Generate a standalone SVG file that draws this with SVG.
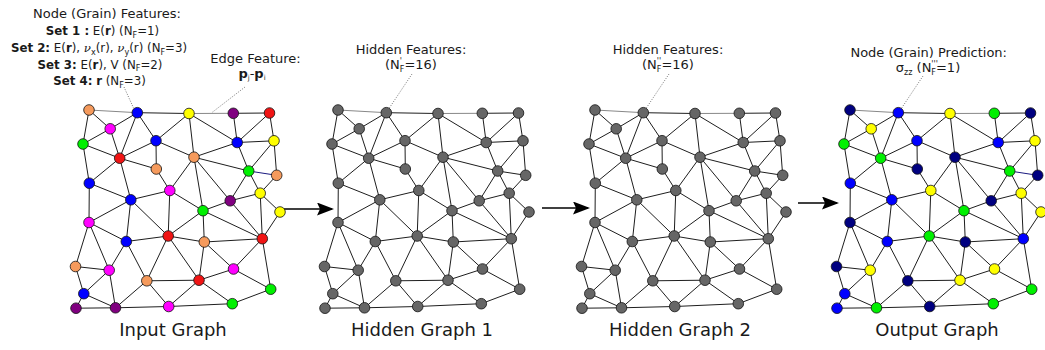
<svg xmlns="http://www.w3.org/2000/svg" xmlns:xlink="http://www.w3.org/1999/xlink" width="1045" height="350" viewBox="0 0 1045 350">
<style>
.e{fill:none;stroke:#1e1e1e;stroke-width:1}
.eg{fill:none;stroke:#888;stroke-width:1}
.en{fill:none;stroke:#1a1a80;stroke-width:1}
.lead{fill:none;stroke:#777;stroke-width:1;stroke-dasharray:1 1.5}
.arr{fill:none;stroke:#000;stroke-width:1.6}
.node{stroke:#111;stroke-width:0.8}
.or{fill:#f59a5c}.bl{fill:#0000ff}.ye{fill:#ffff00}.pu{fill:#800080}.rd{fill:#f01414}.mg{fill:#ff00ff}.gn{fill:#00f000}.nv{fill:#000080}.gy{fill:#666666}
.t{font-family:"DejaVu Sans",Verdana,sans-serif;fill:#1a1a1a;text-anchor:middle}
.t13{font-size:13px}.t11{font-size:11.8px}.t17{font-size:18px}
.b{font-weight:bold}
.nu{font-family:"DejaVu Serif",serif;font-style:italic}
</style>
<defs>
<marker id="ah" markerUnits="userSpaceOnUse" viewBox="0 0 17 13" markerWidth="17" markerHeight="13" refX="15" refY="6.5" orient="auto">
<path d="M0,0 L17,6.5 L0,13 L3,6.5 z" fill="#000"/>
</marker>
<path id="E" d="M89 110L110.2 128.8M89 110L83 144M137.3 112.7L189 113.5M137.3 112.7L110.2 128.8M137.3 112.7L156 140.7M137.3 112.7L119.7 158.2M189 113.5L156 140.7M189 113.5L237.2 142.5M189 113.5L194 157.2M233.3 113.3L269.5 113M233.3 113.3L237.2 142.5M269.5 113L237.2 142.5M269.5 113L274 140.8M110.2 128.8L83 144M110.2 128.8L119.7 158.2M83 144L119.7 158.2M83 144L89.3 183.2M156 140.7L119.7 158.2M156 140.7L194 157.2M156 140.7L156.3 169M237.2 142.5L274 140.8M237.2 142.5L194 157.2M237.2 142.5L248.7 171M274 140.8L248.7 171M274 140.8L276.7 175.3M119.7 158.2L156.3 169M119.7 158.2L89.3 183.2M119.7 158.2L130.8 199.8M194 157.2L248.7 171M194 157.2L169.8 190.5M194 157.2L230.2 200.8M194 157.2L203 210.7M156.3 169L169.8 190.5M248.7 171L260.2 193.2M248.7 171L230.2 200.8M276.7 175.3L260.2 193.2M89.3 183.2L130.8 199.8M89.3 183.2L89 222.5M169.8 190.5L130.8 199.8M169.8 190.5L203 210.7M169.8 190.5L168.2 236M130.8 199.8L89 222.5M130.8 199.8L126.3 241.5M130.8 199.8L168.2 236M260.2 193.2L230.2 200.8M260.2 193.2L280 212M260.2 193.2L262.3 238.7M230.2 200.8L203 210.7M230.2 200.8L262.3 238.7M280 212L262.3 238.7M203 210.7L168.2 236M203 210.7L204.3 242M203 210.7L262.3 238.7M89 222.5L126.3 241.5M89 222.5L75.5 266.5M89 222.5L109.2 270.2M126.3 241.5L168.2 236M126.3 241.5L109.2 270.2M126.3 241.5L146.8 280.8M168.2 236L204.3 242M168.2 236L146.8 280.8M168.2 236L199 280.2M204.3 242L262.3 238.7M204.3 242L199 280.2M204.3 242L233.5 269M262.3 238.7L233.5 269M262.3 238.7L270.7 289.2M75.5 266.5L109.2 270.2M75.5 266.5L83.8 293.7M109.2 270.2L83.8 293.7M109.2 270.2L115.5 307.8M146.8 280.8L199 280.2M146.8 280.8L115.5 307.8M146.8 280.8L168.7 306.5M199 280.2L233.5 269M199 280.2L168.7 306.5M199 280.2L232.3 303.7M233.5 269L270.7 289.2M83.8 293.7L76 308.2M83.8 293.7L115.5 307.8M270.7 289.2L232.3 303.7M76 308.2L115.5 307.8M115.5 307.8L168.7 306.5M168.7 306.5L232.3 303.7"/>
<path id="EG" d="M89 110L137.3 112.7M189 113.5L233.3 113.3"/>
<path id="EN" d="M248.7 171L276.7 175.3"/>
<circle id="p1" cx="89" cy="110" r="5.3"/>
<circle id="p2" cx="137.3" cy="112.7" r="5.3"/>
<circle id="p3" cx="189" cy="113.5" r="5.3"/>
<circle id="p4" cx="233.3" cy="113.3" r="5.3"/>
<circle id="p5" cx="269.5" cy="113" r="5.3"/>
<circle id="p6" cx="110.2" cy="128.8" r="5.3"/>
<circle id="p7" cx="83" cy="144" r="5.3"/>
<circle id="p8" cx="156" cy="140.7" r="5.3"/>
<circle id="p9" cx="237.2" cy="142.5" r="5.3"/>
<circle id="p10" cx="274" cy="140.8" r="5.3"/>
<circle id="p11" cx="119.7" cy="158.2" r="5.3"/>
<circle id="p12" cx="194" cy="157.2" r="5.3"/>
<circle id="p13" cx="156.3" cy="169" r="5.3"/>
<circle id="p14" cx="248.7" cy="171" r="5.3"/>
<circle id="p15" cx="276.7" cy="175.3" r="5.3"/>
<circle id="p16" cx="89.3" cy="183.2" r="5.3"/>
<circle id="p17" cx="169.8" cy="190.5" r="5.3"/>
<circle id="p18" cx="130.8" cy="199.8" r="5.3"/>
<circle id="p19" cx="260.2" cy="193.2" r="5.3"/>
<circle id="p20" cx="230.2" cy="200.8" r="5.3"/>
<circle id="p21" cx="280" cy="212" r="5.3"/>
<circle id="p22" cx="203" cy="210.7" r="5.3"/>
<circle id="p23" cx="89" cy="222.5" r="5.3"/>
<circle id="p24" cx="126.3" cy="241.5" r="5.3"/>
<circle id="p25" cx="168.2" cy="236" r="5.3"/>
<circle id="p26" cx="204.3" cy="242" r="5.3"/>
<circle id="p27" cx="262.3" cy="238.7" r="5.3"/>
<circle id="p28" cx="75.5" cy="266.5" r="5.3"/>
<circle id="p29" cx="109.2" cy="270.2" r="5.3"/>
<circle id="p30" cx="146.8" cy="280.8" r="5.3"/>
<circle id="p31" cx="199" cy="280.2" r="5.3"/>
<circle id="p32" cx="233.5" cy="269" r="5.3"/>
<circle id="p33" cx="83.8" cy="293.7" r="5.3"/>
<circle id="p34" cx="270.7" cy="289.2" r="5.3"/>
<circle id="p35" cx="76" cy="308.2" r="5.3"/>
<circle id="p36" cx="115.5" cy="307.8" r="5.3"/>
<circle id="p37" cx="168.7" cy="306.5" r="5.3"/>
<circle id="p38" cx="232.3" cy="303.7" r="5.3"/>
</defs>
<rect width="1045" height="350" fill="#fff"/>

<!-- Labels -->
<g id="labels">
<text class="t t13" x="107" y="18">Node (Grain) Features:</text>
<text class="t t11" x="102.5" y="35"><tspan class="b">Set 1 :</tspan> E(<tspan class="b">r</tspan>) (N<tspan font-size="8" dy="2.5">F</tspan><tspan dy="-2.5">=1)</tspan></text>
<text class="t t11" x="99" y="52"><tspan class="b">Set 2:</tspan> E(<tspan class="b">r</tspan>), <tspan class="nu">ν</tspan><tspan font-size="8" dy="2.5">x</tspan><tspan dy="-2.5">(r), </tspan><tspan class="nu">ν</tspan><tspan font-size="8" dy="2.5">y</tspan><tspan dy="-2.5">(r) (N</tspan><tspan font-size="8" dy="2.5">F</tspan><tspan dy="-2.5">=3)</tspan></text>
<text class="t t11" x="100" y="68.5"><tspan class="b">Set 3:</tspan> E(<tspan class="b">r</tspan>), V (N<tspan font-size="8" dy="2.5">F</tspan><tspan dy="-2.5">=2)</tspan></text>
<text class="t t11" x="99.5" y="85"><tspan class="b">Set 4:</tspan> <tspan class="b">r</tspan> (N<tspan font-size="8" dy="2.5">F</tspan><tspan dy="-2.5">=3)</tspan></text>
<text class="t t13" x="255.5" y="63">Edge Feature:</text>
<text class="t t13" x="252" y="78"><tspan class="b">p</tspan><tspan font-size="7" dy="2">j</tspan><tspan dy="-2">-</tspan><tspan class="b">p</tspan><tspan font-size="7" dy="2">i</tspan></text>
<text class="t t13" x="411" y="54.3">Hidden Features:</text>
<text class="t t13" x="411" y="69">(N<tspan font-size="8" dy="-5">'</tspan><tspan font-size="8" dx="-2.2" dy="8">F</tspan><tspan dy="-3">=16)</tspan></text>
<text class="t t13" x="668" y="54.3">Hidden Features:</text>
<text class="t t13" x="668" y="69">(N<tspan font-size="8" dy="-5">''</tspan><tspan font-size="8" dx="-4.4" dy="8">F</tspan><tspan dy="-3">=16)</tspan></text>
<text class="t t13" x="928.7" y="57.3">Node (Grain) Prediction:</text>
<text class="t t13" x="928" y="72.3">σ<tspan font-size="8" dy="2.5">zz</tspan><tspan dy="-2.5"> (N</tspan><tspan font-size="8" dy="-5">'''</tspan><tspan font-size="8" dx="-6.6" dy="8">F</tspan><tspan dy="-3">=1)</tspan></text>
<text class="t t17" x="173" y="336">Input Graph</text>
<text class="t t17" x="422" y="336">Hidden Graph 1</text>
<text class="t t17" x="680" y="336">Hidden Graph 2</text>
<text class="t t17" x="937" y="336">Output Graph</text>
</g>

<!-- Connectors -->
<g id="connectors">
<g id="input-edges"><use href="#E" class="e"/><use href="#EG" class="eg"/><use href="#EN" class="en"/></g>
<g id="hidden1-edges" transform="translate(249,0)"><use href="#E" class="e"/><use href="#EG" class="eg"/><use href="#EN" class="e"/></g>
<g id="hidden2-edges" transform="translate(506,0)"><use href="#E" class="e"/><use href="#EG" class="eg"/><use href="#EN" class="e"/></g>
<g id="output-edges" transform="translate(761,0)"><use href="#E" class="e"/><use href="#EG" class="eg"/><use href="#EN" class="en"/></g>
<g id="leaders">
<path class="lead" d="M124 87L134 109"/>
<path class="lead" d="M245 87L212 112.5"/>
<path class="lead" d="M412 74L388 110"/>
<path class="lead" d="M669 74L645 110"/>
<path class="lead" d="M923 76L901 109"/>
</g>
<g id="arrows">
<path class="arr" d="M284 209H332" marker-end="url(#ah)"/>
<path class="arr" d="M542 208H588" marker-end="url(#ah)"/>
<path class="arr" d="M798 203H837" marker-end="url(#ah)"/>
</g>
</g>

<!-- Input graph nodes -->
<g id="input-nodes">
<g id="in1" class="node or"><use href="#p1"/></g>
<g id="in2" class="node bl"><use href="#p2"/></g>
<g id="in3" class="node ye"><use href="#p3"/></g>
<g id="in4" class="node pu"><use href="#p4"/></g>
<g id="in5" class="node rd"><use href="#p5"/></g>
<g id="in6" class="node mg"><use href="#p6"/></g>
<g id="in7" class="node gn"><use href="#p7"/></g>
<g id="in8" class="node bl"><use href="#p8"/></g>
<g id="in9" class="node bl"><use href="#p9"/></g>
<g id="in10" class="node ye"><use href="#p10"/></g>
<g id="in11" class="node rd"><use href="#p11"/></g>
<g id="in12" class="node or"><use href="#p12"/></g>
<g id="in13" class="node or"><use href="#p13"/></g>
<g id="in14" class="node gn"><use href="#p14"/></g>
<g id="in15" class="node or"><use href="#p15"/></g>
<g id="in16" class="node bl"><use href="#p16"/></g>
<g id="in17" class="node mg"><use href="#p17"/></g>
<g id="in18" class="node bl"><use href="#p18"/></g>
<g id="in19" class="node ye"><use href="#p19"/></g>
<g id="in20" class="node pu"><use href="#p20"/></g>
<g id="in21" class="node ye"><use href="#p21"/></g>
<g id="in22" class="node gn"><use href="#p22"/></g>
<g id="in23" class="node mg"><use href="#p23"/></g>
<g id="in24" class="node bl"><use href="#p24"/></g>
<g id="in25" class="node rd"><use href="#p25"/></g>
<g id="in26" class="node or"><use href="#p26"/></g>
<g id="in27" class="node rd"><use href="#p27"/></g>
<g id="in28" class="node or"><use href="#p28"/></g>
<g id="in29" class="node mg"><use href="#p29"/></g>
<g id="in30" class="node or"><use href="#p30"/></g>
<g id="in31" class="node rd"><use href="#p31"/></g>
<g id="in32" class="node mg"><use href="#p32"/></g>
<g id="in33" class="node bl"><use href="#p33"/></g>
<g id="in34" class="node gn"><use href="#p34"/></g>
<g id="in35" class="node pu"><use href="#p35"/></g>
<g id="in36" class="node pu"><use href="#p36"/></g>
<g id="in37" class="node mg"><use href="#p37"/></g>
<g id="in38" class="node gn"><use href="#p38"/></g>
</g>

<!-- Hidden graph 1 nodes -->
<g id="hidden1-nodes" transform="translate(249,0)" class="node gy">
<g id="h1n1"><use href="#p1"/></g><g id="h1n2"><use href="#p2"/></g><g id="h1n3"><use href="#p3"/></g><g id="h1n4"><use href="#p4"/></g><g id="h1n5"><use href="#p5"/></g><g id="h1n6"><use href="#p6"/></g><g id="h1n7"><use href="#p7"/></g><g id="h1n8"><use href="#p8"/></g><g id="h1n9"><use href="#p9"/></g><g id="h1n10"><use href="#p10"/></g>
<g id="h1n11"><use href="#p11"/></g><g id="h1n12"><use href="#p12"/></g><g id="h1n13"><use href="#p13"/></g><g id="h1n14"><use href="#p14"/></g><g id="h1n15"><use href="#p15"/></g><g id="h1n16"><use href="#p16"/></g><g id="h1n17"><use href="#p17"/></g><g id="h1n18"><use href="#p18"/></g><g id="h1n19"><use href="#p19"/></g><g id="h1n20"><use href="#p20"/></g>
<g id="h1n21"><use href="#p21"/></g><g id="h1n22"><use href="#p22"/></g><g id="h1n23"><use href="#p23"/></g><g id="h1n24"><use href="#p24"/></g><g id="h1n25"><use href="#p25"/></g><g id="h1n26"><use href="#p26"/></g><g id="h1n27"><use href="#p27"/></g><g id="h1n28"><use href="#p28"/></g><g id="h1n29"><use href="#p29"/></g><g id="h1n30"><use href="#p30"/></g>
<g id="h1n31"><use href="#p31"/></g><g id="h1n32"><use href="#p32"/></g><g id="h1n33"><use href="#p33"/></g><g id="h1n34"><use href="#p34"/></g><g id="h1n35"><use href="#p35"/></g><g id="h1n36"><use href="#p36"/></g><g id="h1n37"><use href="#p37"/></g><g id="h1n38"><use href="#p38"/></g>
</g>

<!-- Hidden graph 2 nodes -->
<g id="hidden2-nodes" transform="translate(506,0)" class="node gy">
<g id="h2n1"><use href="#p1"/></g><g id="h2n2"><use href="#p2"/></g><g id="h2n3"><use href="#p3"/></g><g id="h2n4"><use href="#p4"/></g><g id="h2n5"><use href="#p5"/></g><g id="h2n6"><use href="#p6"/></g><g id="h2n7"><use href="#p7"/></g><g id="h2n8"><use href="#p8"/></g><g id="h2n9"><use href="#p9"/></g><g id="h2n10"><use href="#p10"/></g>
<g id="h2n11"><use href="#p11"/></g><g id="h2n12"><use href="#p12"/></g><g id="h2n13"><use href="#p13"/></g><g id="h2n14"><use href="#p14"/></g><g id="h2n15"><use href="#p15"/></g><g id="h2n16"><use href="#p16"/></g><g id="h2n17"><use href="#p17"/></g><g id="h2n18"><use href="#p18"/></g><g id="h2n19"><use href="#p19"/></g><g id="h2n20"><use href="#p20"/></g>
<g id="h2n21"><use href="#p21"/></g><g id="h2n22"><use href="#p22"/></g><g id="h2n23"><use href="#p23"/></g><g id="h2n24"><use href="#p24"/></g><g id="h2n25"><use href="#p25"/></g><g id="h2n26"><use href="#p26"/></g><g id="h2n27"><use href="#p27"/></g><g id="h2n28"><use href="#p28"/></g><g id="h2n29"><use href="#p29"/></g><g id="h2n30"><use href="#p30"/></g>
<g id="h2n31"><use href="#p31"/></g><g id="h2n32"><use href="#p32"/></g><g id="h2n33"><use href="#p33"/></g><g id="h2n34"><use href="#p34"/></g><g id="h2n35"><use href="#p35"/></g><g id="h2n36"><use href="#p36"/></g><g id="h2n37"><use href="#p37"/></g><g id="h2n38"><use href="#p38"/></g>
</g>

<!-- Output graph nodes -->
<g id="output-nodes" transform="translate(761,0)">
<g id="out1" class="node nv"><use href="#p1"/></g>
<g id="out2" class="node bl"><use href="#p2"/></g>
<g id="out3" class="node ye"><use href="#p3"/></g>
<g id="out4" class="node gn"><use href="#p4"/></g>
<g id="out5" class="node nv"><use href="#p5"/></g>
<g id="out6" class="node ye"><use href="#p6"/></g>
<g id="out7" class="node gn"><use href="#p7"/></g>
<g id="out8" class="node bl"><use href="#p8"/></g>
<g id="out9" class="node bl"><use href="#p9"/></g>
<g id="out10" class="node ye"><use href="#p10"/></g>
<g id="out11" class="node gn"><use href="#p11"/></g>
<g id="out12" class="node nv"><use href="#p12"/></g>
<g id="out13" class="node nv"><use href="#p13"/></g>
<g id="out14" class="node gn"><use href="#p14"/></g>
<g id="out15" class="node nv"><use href="#p15"/></g>
<g id="out16" class="node bl"><use href="#p16"/></g>
<g id="out17" class="node ye"><use href="#p17"/></g>
<g id="out18" class="node bl"><use href="#p18"/></g>
<g id="out19" class="node ye"><use href="#p19"/></g>
<g id="out20" class="node nv"><use href="#p20"/></g>
<g id="out21" class="node ye"><use href="#p21"/></g>
<g id="out22" class="node gn"><use href="#p22"/></g>
<g id="out23" class="node nv"><use href="#p23"/></g>
<g id="out24" class="node bl"><use href="#p24"/></g>
<g id="out25" class="node gn"><use href="#p25"/></g>
<g id="out26" class="node nv"><use href="#p26"/></g>
<g id="out27" class="node bl"><use href="#p27"/></g>
<g id="out28" class="node nv"><use href="#p28"/></g>
<g id="out29" class="node ye"><use href="#p29"/></g>
<g id="out30" class="node nv"><use href="#p30"/></g>
<g id="out31" class="node ye"><use href="#p31"/></g>
<g id="out32" class="node ye"><use href="#p32"/></g>
<g id="out33" class="node bl"><use href="#p33"/></g>
<g id="out34" class="node gn"><use href="#p34"/></g>
<g id="out35" class="node bl"><use href="#p35"/></g>
<g id="out36" class="node gn"><use href="#p36"/></g>
<g id="out37" class="node nv"><use href="#p37"/></g>
<g id="out38" class="node gn"><use href="#p38"/></g>
</g>
</svg>
